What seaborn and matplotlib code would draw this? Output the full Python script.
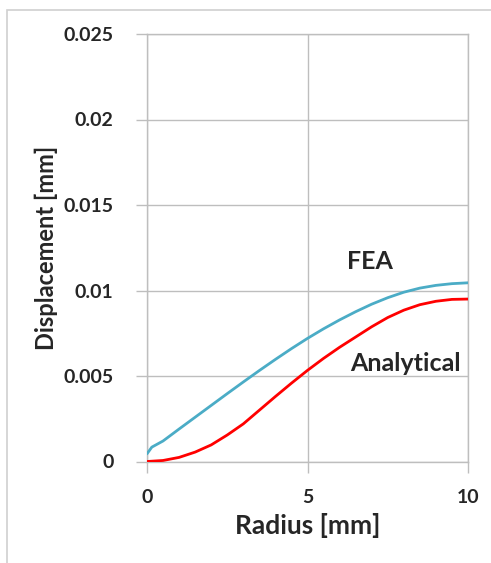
import matplotlib
matplotlib.use("Agg")
import matplotlib.pyplot as plt
from matplotlib.patches import Rectangle
import seaborn as sns
import pandas as pd

# Data
radius_fea = [0, 0.15, 0.5, 1, 1.5, 2, 2.5, 3, 3.5, 4, 4.5, 5, 5.5, 6, 6.5, 7, 7.5, 8, 8.5, 9, 9.5, 10]
disp_fea = [0.00045, 0.00084, 0.0012, 0.0019, 0.00259, 0.00328, 0.00397, 0.00465, 0.00532, 0.00597,
            0.0066, 0.0072, 0.00776, 0.00828, 0.00876, 0.0092, 0.00958, 0.0099, 0.01014, 0.0103,
            0.0104, 0.01045]
radius_an = [0, 0.5, 1, 1.5, 2, 2.5, 3, 3.5, 4, 4.5, 5, 5.5, 6, 6.5, 7, 7.5, 8, 8.5, 9, 9.5, 10]
disp_an = [0, 0.00006, 0.00024, 0.00055, 0.00097, 0.00155, 0.0022, 0.0030, 0.0038, 0.00458, 0.00533,
           0.00603, 0.00668, 0.00728, 0.00788, 0.00842, 0.00885, 0.00917, 0.00937, 0.00948, 0.0095]
x_ticks = [0, 5, 10]
y_ticks = [0, 0.005, 0.01, 0.015, 0.02, 0.025]
y_tick_labels = ["0", "0.005", "0.01", "0.015", "0.02", "0.025"]

df = pd.concat([
    pd.DataFrame({"Radius": radius_fea, "Disp": disp_fea, "Series": "FEA"}),
    pd.DataFrame({"Radius": radius_an, "Disp": disp_an, "Series": "Analytical"}),
])

sns.set_style("white")
plt.rcParams["font.family"] = ["Lato", "DejaVu Sans"]

fig = plt.figure(figsize=(4.91, 5.63), dpi=100)
ax = fig.add_axes([147 / 491, 1 - 461.5 / 563, (468 - 147) / 491, (461.5 - 34) / 563])

sns.lineplot(data=df, x="Radius", y="Disp", hue="Series",
             palette={"FEA": "#4BACC6", "Analytical": "#FF0000"},
             linewidth=2.0, legend=False, ax=ax, zorder=3)
for ln in ax.lines:
    ln.set_solid_joinstyle("round")
    ln.set_solid_capstyle("round")

grid_c = "#BEBEBE"
ax.set_xlim(0, 10)
ax.set_ylim(0, 0.025)
ax.set_xticks(x_ticks)
ax.set_xticklabels([str(t) for t in x_ticks])
ax.set_yticks(y_ticks)
ax.set_yticklabels(y_tick_labels)
ax.grid(True, color=grid_c, linewidth=1.0)
ax.set_axisbelow(True)
for s in ax.spines.values():
    s.set_color(grid_c)
    s.set_linewidth(1.0)
ax.tick_params(axis="both", which="major", length=8, width=1.0, color=grid_c,
               labelsize=14, direction="out")
ax.tick_params(axis="y", pad=16, left=True)
ax.tick_params(axis="x", pad=12, bottom=True)
for lab in ax.get_xticklabels() + ax.get_yticklabels():
    lab.set_fontweight("bold")

ax.set_xlabel("Radius [mm]", fontsize=19, fontweight="bold", labelpad=5)
ax.set_ylabel("Displacement [mm]", fontsize=17, fontweight="bold")
ax.yaxis.set_label_coords(-0.278, 0.5)

ax.text(6.95, 0.01127, "FEA", fontsize=18, fontweight="bold", ha="center", va="baseline")
ax.text(8.05, 0.00529, "Analytical", fontsize=18, fontweight="bold", ha="center", va="baseline")

# outer chart border
fig.patches.append(Rectangle((7 / 491, -0.05), 1.2, 1 - 10 / 563 + 0.05,
                             transform=fig.transFigure, fill=False,
                             edgecolor="#D0D0D0", linewidth=1.2, zorder=0))

fig.savefig("out.png", dpi=100)
